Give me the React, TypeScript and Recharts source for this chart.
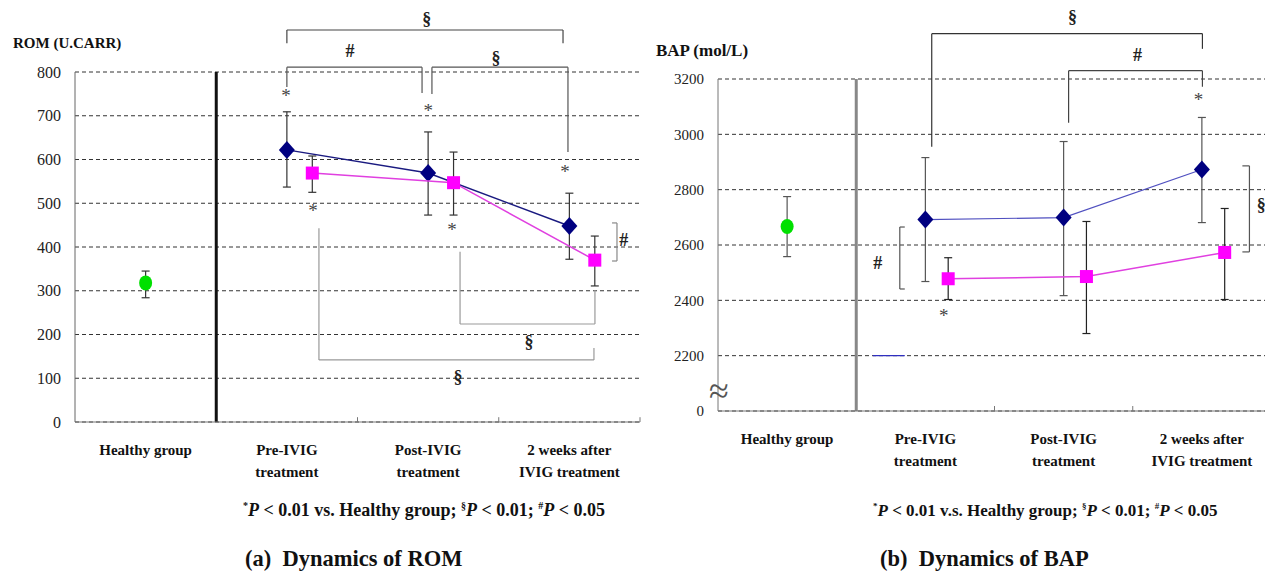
import React from 'react';
import {
  ComposedChart,
  Scatter,
  XAxis,
  YAxis,
  CartesianGrid,
  ErrorBar,
  ReferenceLine,
  ReferenceDot,
} from 'recharts';

// ---------- shared categories ----------
const categoryLines: string[][] = [
  ['Healthy group'],
  ['Pre-IVIG', 'treatment'],
  ['Post-IVIG', 'treatment'],
  ['2 weeks after', 'IVIG treatment'],
];
const categoryCenters = [0.5, 1.5, 2.5, 3.5];
const patientCenters = [1.5, 2.5, 3.5];

// ---------- ROM (panel a) ----------
const romTicks = [0, 100, 200, 300, 400, 500, 600, 700, 800];
const romHealthyMean = [318];
const romHealthyLow = [284];
const romHealthyHigh = [345];
const romBlueMean = [622, 569, 448];
const romBlueLow = [537, 473, 372];
const romBlueHigh = [709, 663, 523];
const romPinkMean = [569, 547, 370];
const romPinkLow = [525, 473, 311];
const romPinkHigh = [608, 617, 425];
const romPinkOffset = 0.18;
const romInnerTicks = [2, 3, 4];

// significance brackets (data coordinates)
const romBrackets: { pts: number[][]; color: string }[] = [
  { pts: [[1.5, 866], [1.5, 896], [3.455, 896], [3.455, 866]], color: '#444' },
  { pts: [[1.5, 766], [1.5, 811], [2.457, 811], [2.457, 752]], color: '#555' },
  { pts: [[2.527, 750], [2.527, 811], [3.49, 811], [3.49, 617]], color: '#555' },
  { pts: [[2.726, 389], [2.726, 224], [3.681, 224], [3.681, 302]], color: '#999' },
  { pts: [[1.727, 443], [1.727, 142], [3.674, 142], [3.674, 169]], color: '#999' },
  { pts: [[3.802, 455], [3.837, 455], [3.837, 368], [3.802, 368]], color: '#888' },
];
const romMarks = [
  { x: 2.49, y: 923, t: '§' },
  { x: 1.947, y: 850, t: '#' },
  { x: 2.98, y: 834, t: '§' },
  { x: 3.214, y: 183, t: '§' },
  { x: 2.712, y: 103, t: '§' },
  { x: 3.885, y: 416, t: '#' },
];
const romStars = [
  [1.494, 747],
  [1.685, 485],
  [2.5, 713],
  [2.669, 441],
  [3.469, 574],
];

// ---------- BAP (panel b) ----------
const bapTicks = [2000, 2200, 2400, 2600, 2800, 3000, 3200];
const bapTickLabels = ['0', '2200', '2400', '2600', '2800', '3000', '3200'];
const bapHealthyMean = [2667];
const bapHealthyLow = [2558];
const bapHealthyHigh = [2775];
const bapBlueMean = [2692, 2699, 2873];
const bapBlueLow = [2468, 2417, 2681];
const bapBlueHigh = [2916, 2974, 3061];
const bapPinkMean = [2478, 2486, 2573];
const bapPinkLow = [2403, 2280, 2403];
const bapPinkHigh = [2554, 2685, 2732];
const bapPinkOffset = 0.165;
const bapInnerTicks = [2, 3];

const bapBrackets: { pts: number[][]; color: string }[] = [
  { pts: [[1.546, 2955], [1.546, 3364], [3.504, 3364], [3.504, 3309]], color: '#333' },
  { pts: [[2.536, 3042], [2.536, 3230], [3.504, 3230], [3.504, 3172]], color: '#444' },
  { pts: [[1.351, 2665], [1.315, 2665], [1.315, 2441], [1.351, 2441]], color: '#555' },
  { pts: [[3.793, 2886], [3.844, 2886], [3.844, 2575], [3.793, 2575]], color: '#555' },
];
const bapMarks = [
  { x: 2.565, y: 3425, t: '§' },
  { x: 3.035, y: 3288, t: '#' },
  { x: 1.156, y: 2535, t: '#' },
  { x: 3.93, y: 2745, t: '§' },
];
const bapStars = [
  [3.475, 3128],
  [1.633, 2347],
];
const bapStraySegment = [[1.12, 2200], [1.351, 2200]];
const bapBreakMark = { x: 0.007, y: 2076 };

// ---------- helpers ----------
const FONT = 'Liberation Serif, DejaVu Serif, serif';

const build = (xs: number[], mean: number[], low: number[], high: number[]) =>
  mean.map((m, i) => ({ x: xs[i], y: m, err: [m - low[i], high[i] - m] }));

const Diamond = (props: any) => {
  const { cx, cy, fill } = props;
  if (cx == null || cy == null) return null;
  return (
    <polygon
      points={`${cx},${cy - 9} ${cx + 8},${cy} ${cx},${cy + 9} ${cx - 8},${cy}`}
      fill={fill}
    />
  );
};
const Square = (props: any) => {
  const { cx, cy, fill } = props;
  if (cx == null || cy == null) return null;
  return <rect x={cx - 6.5} y={cy - 6.5} width={13} height={13} fill={fill} />;
};
const Oval = (props: any) => {
  const { cx, cy, fill } = props;
  if (cx == null || cy == null) return null;
  return <ellipse cx={cx} cy={cy} rx={6.5} ry={7.5} fill={fill} />;
};

const CategoryTick = (props: any) => {
  const { x, y, payload } = props;
  const idx = categoryCenters.indexOf(payload.value);
  const lines = categoryLines[idx] || [];
  return (
    <text
      x={x}
      y={y}
      textAnchor="middle"
      style={{ fontFamily: FONT }}
      fontWeight="bold"
      fontSize={15}
      fill="#111"
    >
      {lines.map((l, i) => (
        <tspan key={i} x={x} dy={i === 0 ? 33 : 22}>
          {l}
        </tspan>
      ))}
    </text>
  );
};

const renderBrackets = (brackets: { pts: number[][]; color: string }[], prefix: string) =>
  brackets.flatMap((b, bi) =>
    b.pts.slice(1).map((p, i) => (
      <ReferenceLine
        key={`${prefix}-${bi}-${i}`}
        segment={[
          { x: b.pts[i][0], y: b.pts[i][1] },
          { x: p[0], y: p[1] },
        ]}
        stroke={b.color}
        strokeWidth={1.2}
        ifOverflow="visible"
      />
    ))
  );

const renderMarks = (marks: { x: number; y: number; t: string }[], prefix: string, size: number) =>
  marks.map((m, i) => (
    <ReferenceDot
      key={`${prefix}-m-${i}`}
      x={m.x}
      y={m.y}
      r={0}
      fill="none"
      stroke="none"
      ifOverflow="visible"
      label={{
        value: m.t,
        position: 'center',
        fill: '#222',
        fontSize: size,
        style: { fontFamily: FONT },
        fontWeight: 'bold',
      }}
    />
  ));

const renderStars = (stars: number[][], prefix: string) =>
  stars.map((s, i) => (
    <ReferenceDot
      key={`${prefix}-s-${i}`}
      x={s[0]}
      y={s[1]}
      r={0}
      fill="none"
      stroke="none"
      ifOverflow="visible"
      label={{
        value: '*',
        position: 'center',
        fill: '#444',
        fontSize: 19,
        style: { fontFamily: FONT },
      }}
    />
  ));

const renderInnerTicks = (xs: number[], y0: number, y1: number, prefix: string) =>
  xs.map((x, i) => (
    <ReferenceLine
      key={`${prefix}-t-${i}`}
      segment={[
        { x, y: y0 },
        { x, y: y1 },
      ]}
      stroke="#777"
      strokeWidth={1}
      ifOverflow="visible"
    />
  ));

// ---------- data tables ----------
const romHealthyData = build([0.5], romHealthyMean, romHealthyLow, romHealthyHigh);
const romBlueData = build(patientCenters, romBlueMean, romBlueLow, romBlueHigh);
const romPinkData = build(
  patientCenters.map((c) => c + romPinkOffset),
  romPinkMean,
  romPinkLow,
  romPinkHigh
);
const bapHealthyData = build([0.5], bapHealthyMean, bapHealthyLow, bapHealthyHigh);
const bapBlueData = build(patientCenters, bapBlueMean, bapBlueLow, bapBlueHigh);
const bapPinkData = build(
  patientCenters.map((c) => c + bapPinkOffset),
  bapPinkMean,
  bapPinkLow,
  bapPinkHigh
);

const textStyle: React.CSSProperties = {
  position: 'absolute',
  fontFamily: FONT,
  color: '#111',
  whiteSpace: 'nowrap',
  lineHeight: 1,
};

const yTickStyle = { fontSize: 16, fill: '#222', style: { fontFamily: FONT } };

export default function App() {
  return (
    <div
      style={{
        position: 'absolute',
        left: 0,
        top: 0,
        width: 1265,
        height: 571,
        overflow: 'hidden',
        background: '#fff',
        fontFamily: FONT,
      }}
    >
      {/* ---------- Panel a ---------- */}
      <div style={{ position: 'absolute', left: 0, top: 0, fontFamily: FONT }}>
        <ComposedChart
          width={645}
          height={571}
          margin={{ top: 72, right: 5, bottom: 89, left: 15 }}
          style={{ fontFamily: FONT }}
        >
          <CartesianGrid vertical={false} stroke="#333" strokeDasharray="4 3" />
          <XAxis
            type="number"
            dataKey="x"
            domain={[0, 4]}
            ticks={categoryCenters}
            allowDataOverflow
            height={60}
            tickLine={false}
            tickSize={0}
            tickMargin={0}
            axisLine={{ stroke: '#777' }}
            tick={<CategoryTick />}
            interval={0}
          />
          <YAxis
            type="number"
            dataKey="y"
            domain={[0, 800]}
            ticks={romTicks}
            allowDataOverflow
            width={60}
            tickLine={false}
            tickSize={6}
            tickMargin={8}
            axisLine={{ stroke: '#666' }}
            tick={yTickStyle}
            interval={0}
          />
          <ReferenceLine x={1} stroke="#111" strokeWidth={3} />
          {renderInnerTicks(romInnerTicks, 0, 11, 'ra')}
          {renderBrackets(romBrackets, 'ra')}
          <Scatter
            data={romHealthyData}
            fill="#00e000"
            shape={<Oval />}
            isAnimationActive={false}
          >
            <ErrorBar dataKey="err" direction="y" width={4} stroke="#333" strokeWidth={1.2} />
          </Scatter>
          <Scatter
            data={romBlueData}
            fill="#000080"
            shape={<Diamond />}
            line={{ stroke: '#1a1a80', strokeWidth: 1.5 }}
            lineType="joint"
            isAnimationActive={false}
          >
            <ErrorBar dataKey="err" direction="y" width={4} stroke="#333" strokeWidth={1.2} />
          </Scatter>
          <Scatter
            data={romPinkData}
            fill="#ff00ff"
            shape={<Square />}
            line={{ stroke: '#e040e0', strokeWidth: 1.5 }}
            lineType="joint"
            isAnimationActive={false}
          >
            <ErrorBar dataKey="err" direction="y" width={4} stroke="#333" strokeWidth={1.2} />
          </Scatter>
          {renderMarks(romMarks, 'ra', 18)}
          {renderStars(romStars, 'ra')}
        </ComposedChart>
      </div>

      {/* ---------- Panel b ---------- */}
      <div style={{ position: 'absolute', left: 645, top: 0, fontFamily: FONT }}>
        <ComposedChart
          width={630}
          height={571}
          margin={{ top: 79, right: 4, bottom: 100, left: 13 }}
          style={{ fontFamily: FONT }}
        >
          <CartesianGrid vertical={false} stroke="#333" strokeDasharray="4 3" />
          <XAxis
            type="number"
            dataKey="x"
            domain={[0, 4]}
            ticks={categoryCenters}
            allowDataOverflow
            height={60}
            tickLine={false}
            tickSize={0}
            tickMargin={0}
            axisLine={{ stroke: '#777' }}
            tick={<CategoryTick />}
            interval={0}
          />
          <YAxis
            type="number"
            dataKey="y"
            domain={[2000, 3200]}
            ticks={bapTicks}
            allowDataOverflow
            width={60}
            tickLine={false}
            tickSize={6}
            tickMargin={8}
            axisLine={{ stroke: '#777' }}
            tick={{ ...yTickStyle, fontSize: 15 }}
            tickFormatter={(v: number) => bapTickLabels[bapTicks.indexOf(v)] ?? String(v)}
            interval={0}
          />
          <ReferenceLine x={1} stroke="#888" strokeWidth={3} />
          {renderInnerTicks(bapInnerTicks, 2000, 2018, 'rb')}
          <ReferenceLine
            segment={[
              { x: bapStraySegment[0][0], y: bapStraySegment[0][1] },
              { x: bapStraySegment[1][0], y: bapStraySegment[1][1] },
            ]}
            stroke="#3030c0"
            strokeWidth={1.2}
            ifOverflow="visible"
          />
          {renderBrackets(bapBrackets, 'rb')}
          <Scatter
            data={bapHealthyData}
            fill="#00e000"
            shape={<Oval />}
            isAnimationActive={false}
          >
            <ErrorBar dataKey="err" direction="y" width={4} stroke="#555" strokeWidth={1.2} />
          </Scatter>
          <Scatter
            data={bapBlueData}
            fill="#000080"
            shape={<Diamond />}
            line={{ stroke: '#5050c0', strokeWidth: 1.2 }}
            lineType="joint"
            isAnimationActive={false}
          >
            <ErrorBar dataKey="err" direction="y" width={4} stroke="#555" strokeWidth={1.2} />
          </Scatter>
          <Scatter
            data={bapPinkData}
            fill="#ff00ff"
            shape={<Square />}
            line={{ stroke: '#e040e0', strokeWidth: 1.5 }}
            lineType="joint"
            isAnimationActive={false}
          >
            <ErrorBar dataKey="err" direction="y" width={4} stroke="#222" strokeWidth={1.2} />
          </Scatter>
          <ReferenceDot
            x={bapBreakMark.x}
            y={bapBreakMark.y}
            r={0}
            fill="none"
            stroke="none"
            ifOverflow="visible"
            label={{ value: '≈', position: 'center', fill: '#555', fontSize: 36, style: { fontFamily: FONT } }}
          />
          {renderMarks(bapMarks, 'rb', 18)}
          {renderStars(bapStars, 'rb')}
        </ComposedChart>
      </div>

      {/* ---------- texts ---------- */}
      <div style={{ ...textStyle, left: 13, top: 36, fontSize: 15, fontWeight: 'bold' }}>ROM (U.CARR)</div>
      <div style={{ ...textStyle, left: 656, top: 42, fontSize: 17, fontWeight: 'bold' }}>BAP (mol/L)</div>

      <div style={{ ...textStyle, left: 243, top: 501, fontSize: 18, fontWeight: 'bold' }}>
        <sup style={{ fontSize: 10 }}>*</sup>
        <i>P</i> &lt; 0.01 vs. Healthy group;{'  '}
        <sup style={{ fontSize: 10 }}>§</sup>
        <i>P</i> &lt; 0.01; <sup style={{ fontSize: 10 }}>#</sup>
        <i>P</i> &lt; 0.05
      </div>
      <div style={{ ...textStyle, left: 873, top: 502, fontSize: 17, fontWeight: 'bold' }}>
        <sup style={{ fontSize: 9 }}>*</sup>
        <i>P</i> &lt; 0.01 v.s. Healthy group;{'  '}
        <sup style={{ fontSize: 9 }}>§</sup>
        <i>P</i> &lt; 0.01; <sup style={{ fontSize: 9 }}>#</sup>
        <i>P</i> &lt; 0.05
      </div>

      <div style={{ ...textStyle, left: 245, top: 548, fontSize: 22.5, fontWeight: 'bold' }}>
        (a)&nbsp; Dynamics of ROM
      </div>
      <div style={{ ...textStyle, left: 880, top: 548, fontSize: 22.5, fontWeight: 'bold' }}>
        (b)&nbsp; Dynamics of BAP
      </div>
    </div>
  );
}
